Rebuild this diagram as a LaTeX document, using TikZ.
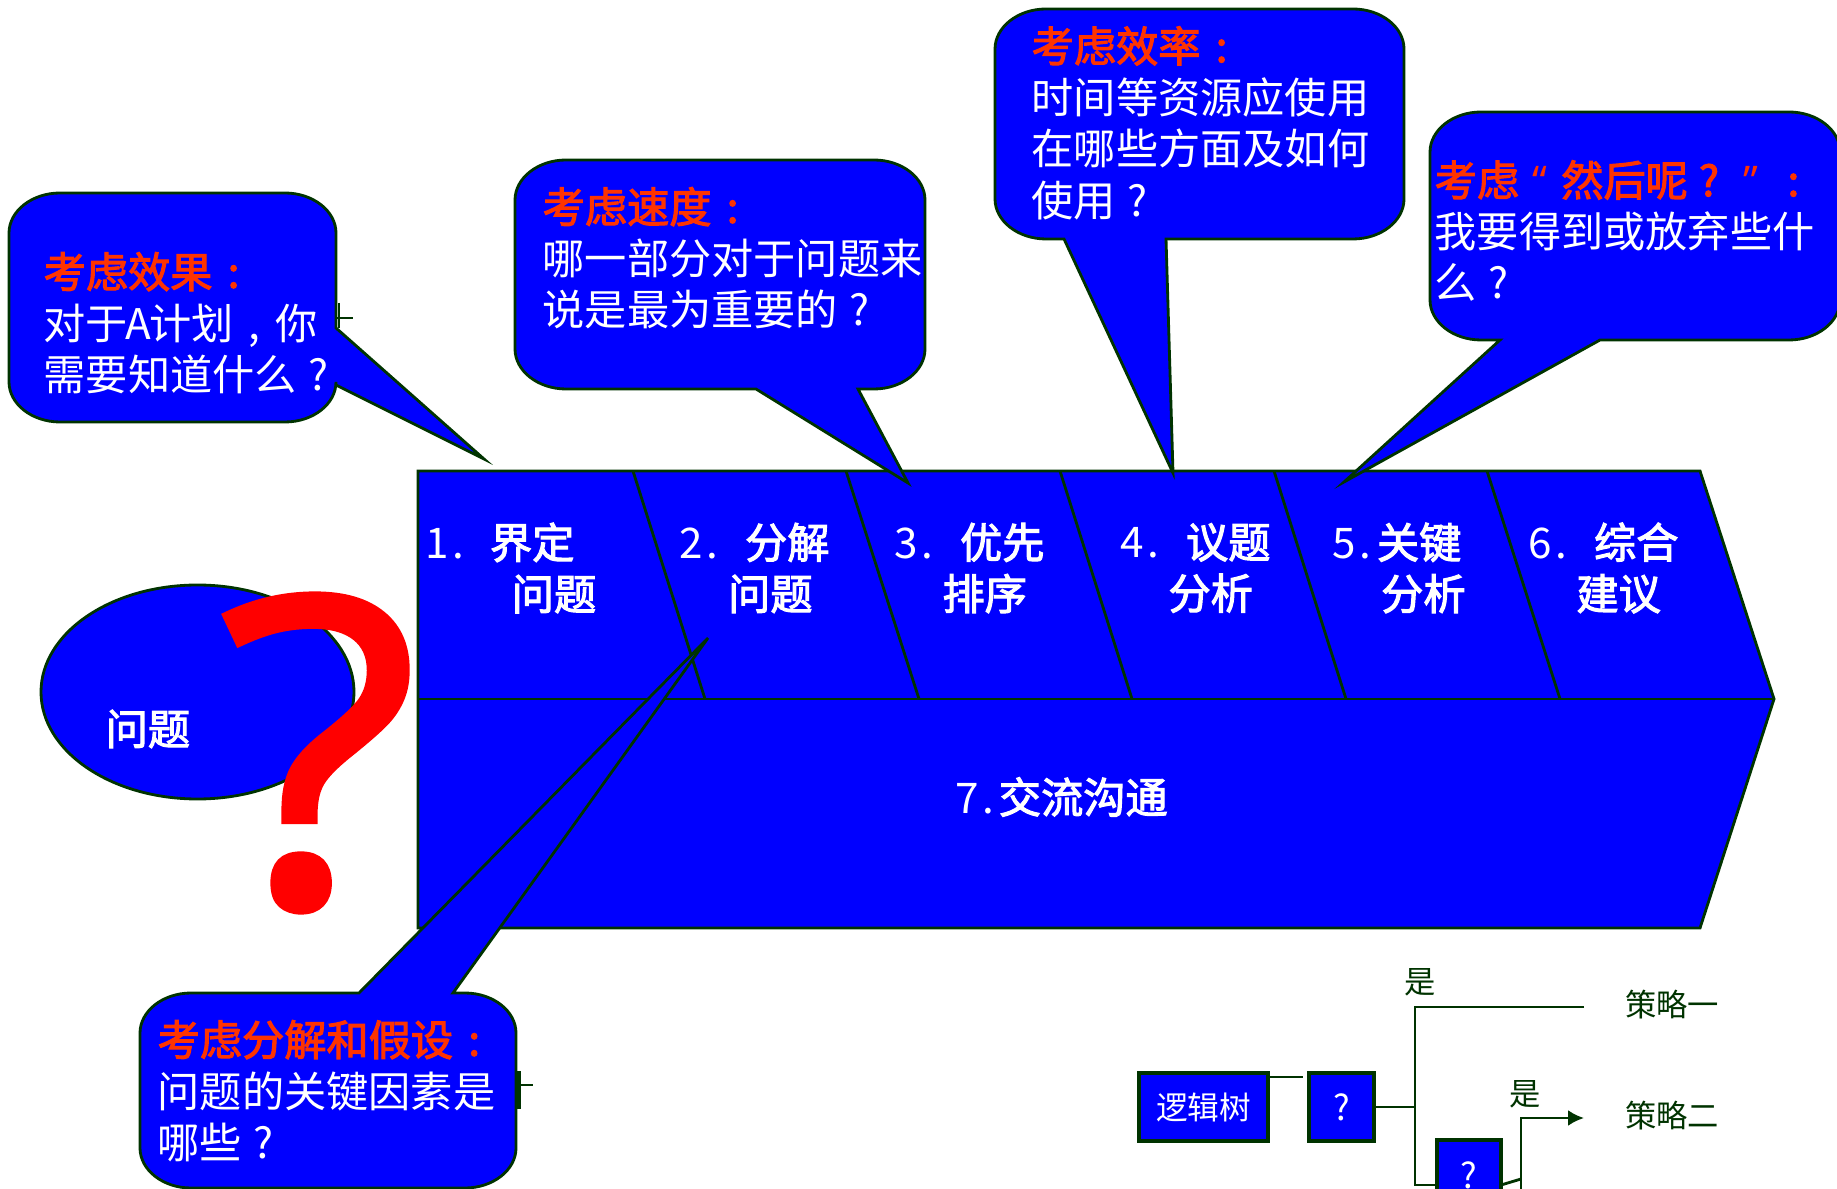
\documentclass[tikz,border=0pt]{standalone}
\usepackage{fontspec}
\usetikzlibrary{arrows.meta}
\setmainfont{Noto Sans CJK SC}
\newfontfamily\markfont[FakeBold=1.5]{Open Sans}
\newfontfamily\quotefont{Open Sans}
\newfontfamily\stepfont[FakeBold=2.5]{Noto Sans CJK SC}
\newfontfamily\headfont[FakeBold=2.5]{Noto Sans CJK SC}
\definecolor{boxblue}{RGB}{0,0,255}
\definecolor{edgegreen}{RGB}{0,51,0}
\definecolor{headred}{RGB}{255,51,0}
\tikzset{
  shape fill/.style={fill=boxblue,draw=edgegreen,line width=0.8pt},
  talk/.style={anchor=west,align=left,text=white,inner sep=0pt,font=\fontsize{12}{14.6}\selectfont},
  steptext/.style={anchor=west,align=left,text=white,inner sep=0pt,font=\fontsize{12}{14.6}\selectfont\stepfont},
  treebox/.style={fill=boxblue,draw=edgegreen,line width=0.9pt,minimum height=0.68cm,text=white,inner sep=0pt,font=\fontsize{9}{11}\selectfont},
  treetext/.style={text=edgegreen,inner sep=0pt,font=\fontsize{8.9}{11}\selectfont},
  treeline/.style={draw=edgegreen,line width=0.8pt}
}
\newcommand{\head}[1]{{\color{headred}\headfont #1}}
\newcommand{\hw}[1]{\makebox[0.5em][c]{#1}}
\newcommand{\fw}[1]{\makebox[1em][c]{#1}}
% x1, y1, x2, y2, then the tail on the top, right or bottom side
\newcommand{\bubble}[7]{
  \filldraw[shape fill] ({#1+51},#2) #5 -- ({#3-51},#2)
    .. controls ({#3-23},#2) and (#3,{#2+18}) .. (#3,{#2+40}) #6 -- (#3,{#4-40})
    .. controls (#3,{#4-18}) and ({#3-23},#4) .. ({#3-51},#4) #7 -- ({#1+51},#4)
    .. controls ({#1+23},#4) and (#1,{#4-18}) .. (#1,{#4-40}) -- (#1,{#2+40})
    .. controls (#1,{#2+18}) and ({#1+23},#2) .. ({#1+51},#2) -- cycle;
}
\newcommand{\steplabel}[5]{\makebox[#2][l]{\normalfont\hw{#1}\hw{.}}#3\\\hspace*{#4}#5}
\begin{document}
\begin{tikzpicture}[x=0.01cm,y=-0.01cm]
   \useasboundingbox (0,0) rectangle (1837,1189);
   % stray marks behind the bubbles
   \draw[treeline,line width=0.7pt] (339,303) -- (339,328);
   \draw[treeline,line width=0.7pt] (330,318) -- (353,318);
   \draw[treeline,line width=1pt] (519,1071) -- (519,1109);
   \draw[treeline,line width=0.7pt] (510,1085) -- (533,1085);
   % problem
   \filldraw[shape fill] (197.5,692) ellipse [x radius=156.5,y radius=107];
   \node[anchor=west,text=white,inner sep=0pt,font=\fontsize{12}{14}\selectfont\stepfont] (problem) at (105,729) {问题};
   \node[text=red,inner sep=0pt,font=\markfont\fontsize{122}{122}\selectfont] (bigmark) at (319,753) {\scalebox{1.08}[1]{?}};
   % chevron
   \filldraw[shape fill] (418,471) -- (1700,471) -- (1774,699) -- (1700,928) -- (418,928) -- cycle;
   \draw[shape fill] (418,699) -- (1774,699);
   \foreach \xa/\xb in {633/705,846/919,1060/1132,1274/1346,1487/1560}
      \draw[edgegreen,line width=0.8pt] (\xa,471) -- (\xb,699);
   \node[steptext] (stepa) at (426,568) {\steplabel{1}{18pt}{界定}{24.2pt}{问题}};
   \node[steptext] (stepb) at (680,568) {\steplabel{2}{18.3pt}{分解}{13.5pt}{问题}};
   \node[steptext] (stepc) at (895,568) {\steplabel{3}{18.3pt}{优先}{13.3pt}{排序}};
   \node[steptext] (stepd) at (1121,568) {\steplabel{4}{18.3pt}{议题}{13.3pt}{分析}};
   \node[steptext] (stepe) at (1333,568) {\steplabel{5}{12.3pt}{关键}{13.5pt}{分析}};
   \node[steptext] (stepf) at (1529,568) {\steplabel{6}{18.3pt}{综合}{13.3pt}{建议}};
   \node[steptext] (stepg) at (956,797) {\makebox[12pt][l]{\normalfont\hw{7}\hw{.}}交流沟通};
   % bubbles
   \bubble{9}{193}{336}{422}{}{-- (336,328) -- (484,459) -- (336,385)}{}
   \bubble{515}{160}{925}{389}{}{}{-- (858,389) -- (908,483) -- (756,389)}
   \bubble{995}{9}{1404}{239}{}{}{-- (1166,239) -- (1173,473) -- (1064,239)}
   \bubble{1430}{112}{1840}{340}{}{}{-- (1600,340) -- (1344,482) -- (1500,340)}
   \bubble{140}{993}{516}{1188}{-- (359,993) -- (708,638) -- (453,993)}{}{}
   \node[talk] (effect) at (43,323) {\head{考虑效果\fw{:}}\\对于\hw{A}计划\fw{,}你\\需要知道什么\fw{?}};
   \node[talk] (speed) at (542,258) {\head{考虑速度\fw{:}}\\哪一部分对于问题来\\说是最为重要的\fw{?}};
   \node[talk] (effic) at (1031,123) {\head{考虑效率\fw{:}}\\时间等资源应使用\\在哪些方面及如何\\使用\fw{?}};
   \node[talk] (next) at (1434,231) {\head{考虑\fw{\quotefont “}然后呢\fw{?}\fw{\quotefont ”}\fw{:}}\\我要得到或放弃些什\\么\fw{?}};
   \node[talk] (split) at (157,1091) {\head{考虑分解和假设\fw{:}}\\问题的关键因素是\\哪些\fw{?}};
   % logic tree
   \node[treebox,minimum width=1.29cm] (tree) at (1203.5,1107) {\raisebox{-1pt}{逻辑树}};
   \node[treebox,minimum width=0.65cm] (asktop) at (1341.5,1107) {\raisebox{-1pt}{\fontsize{10}{11}\selectfont ?}};
   \node[treebox,minimum width=0.64cm,minimum height=0.7cm] (asklow) at (1469,1175) {\fontsize{10}{11}\selectfont ?};
   \node[treetext] (plana) at (1672,1005) {策略一};
   \node[treetext] (planb) at (1672,1116) {策略二};
   \node[treetext] (yesa) at (1420,982) {是};
   \node[treetext] (yesb) at (1525,1094) {是};
   \coordinate (stub) at (1303,1077);
   \coordinate (forka) at (1415,1107);
   \coordinate (topend) at (1584,1007);
   \coordinate (lowend) at (1584,1118);
   \coordinate (forkb) at (1521,1179);
   \coordinate (lowjoin) at (1437,1185);
   \coordinate (lowout) at (1501,1185);
   \draw[treeline] (tree.north east |- stub) -- (stub);
   \draw[treeline] (asktop.east) -- (forka);
   \draw[treeline] (topend) -- (forka |- topend) -- (forka |- lowjoin) -- (lowjoin);
   \draw[treeline] (lowout) -- (forkb);
   \draw[treeline,-{Latex[length=4.5pt,width=4.5pt]}] (forkb |- 0,1200) -- (forkb |- lowend) -- (lowend);
\end{tikzpicture}
\end{document}
